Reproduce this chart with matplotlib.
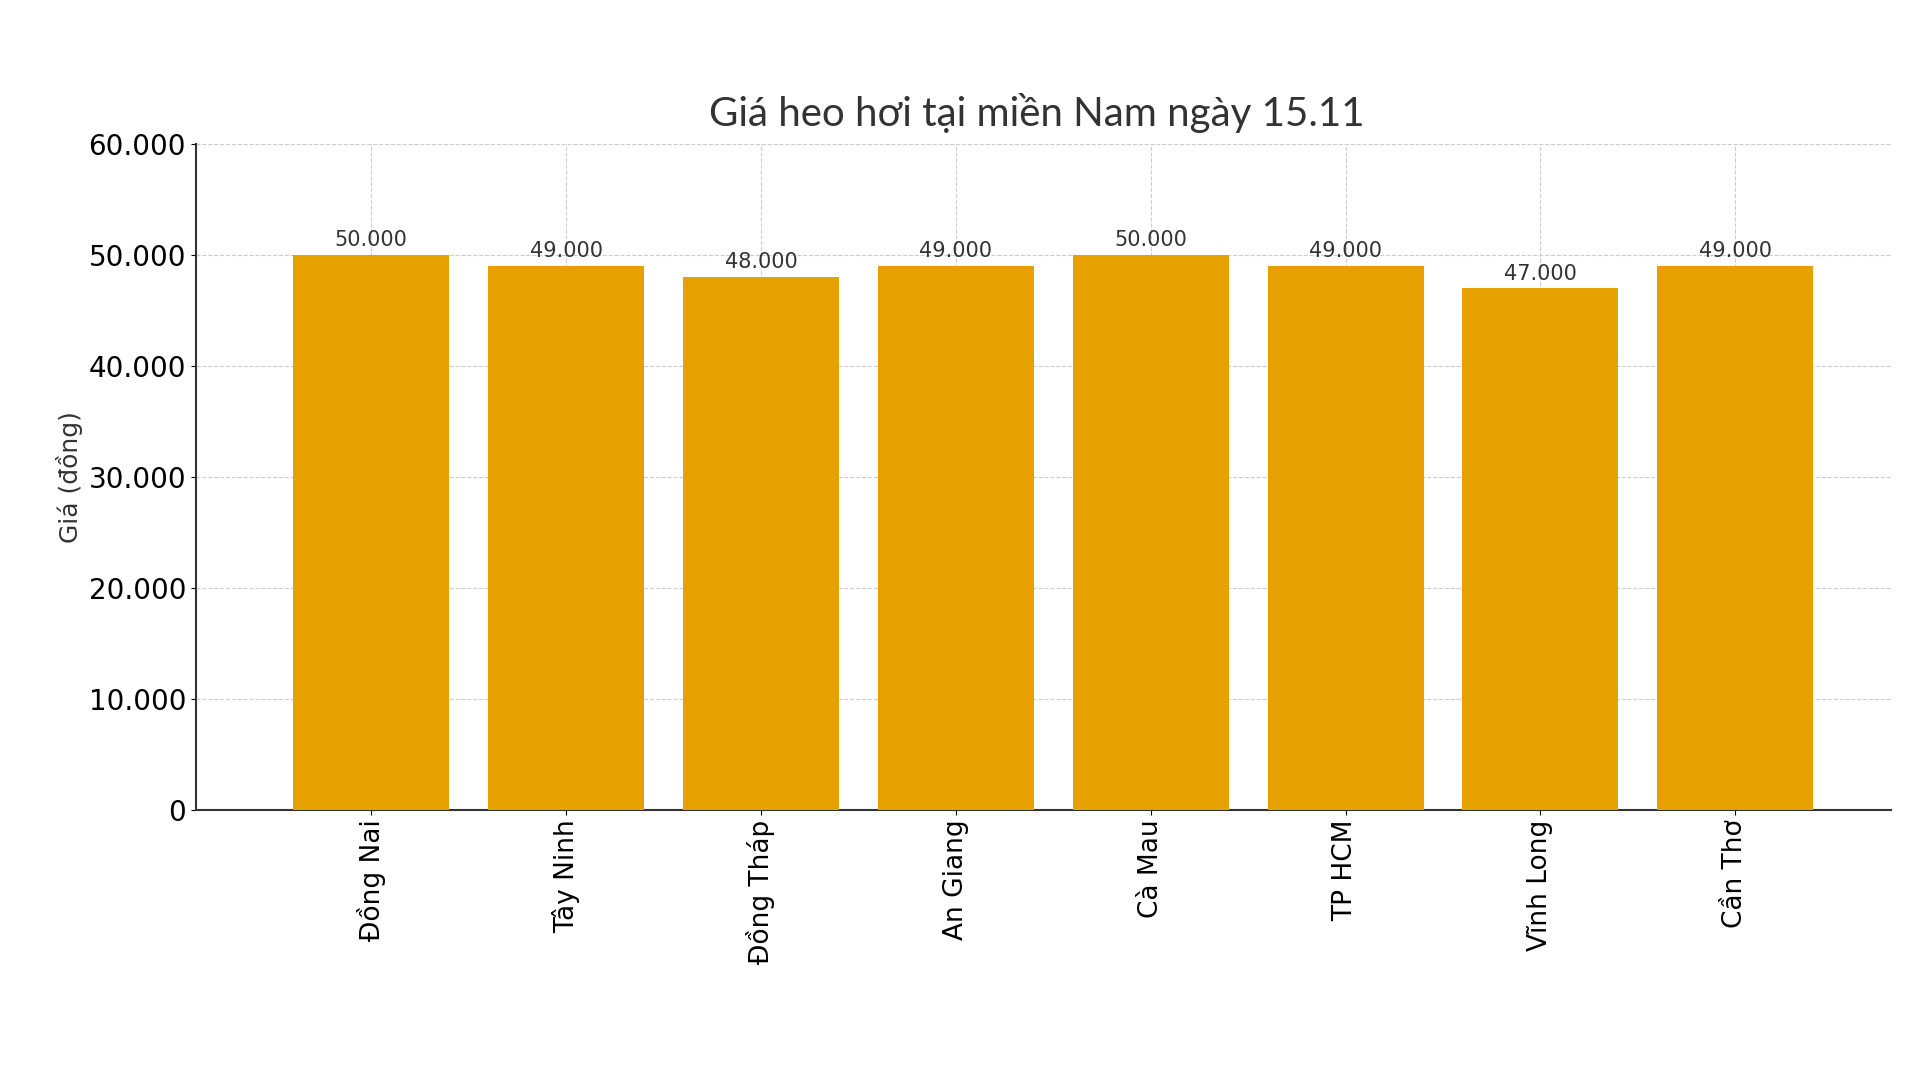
import matplotlib.pyplot as plt
from matplotlib.ticker import FuncFormatter

provinces = ['Đồng Nai', 'Tây Ninh', 'Đồng Tháp', 'An Giang', 'Cà Mau', 'TP HCM', 'Vĩnh Long', 'Cần Thơ']
prices = [50000, 49000, 48000, 49000, 50000, 49000, 47000, 49000]

def dot_fmt(v, pos=None):
    return f"{int(v):,}".replace(',', '.')

fig = plt.figure(figsize=(19.2, 10.8), dpi=100)
ax = fig.add_axes([0.102, 0.25, 0.883, 0.617])

bars = ax.bar(provinces, prices, color='#E6A100', width=0.8, zorder=3)
for b, v in zip(bars, prices):
    ax.text(b.get_x() + b.get_width() / 2, v + 400, dot_fmt(v),
            ha='center', va='bottom', fontsize=15, color='#333333')

ax.set_ylim(0, 60000)
ax.set_xlim(-0.9, 7.8)
ax.yaxis.set_major_formatter(FuncFormatter(dot_fmt))
ax.grid(True, linestyle='--', color='#cccccc', linewidth=0.8, zorder=0)
ax.tick_params(axis='y', labelsize=20)
ax.tick_params(axis='x', labelsize=19, rotation=90)
for s in ['top', 'right']:
    ax.spines[s].set_visible(False)
for s in ['left', 'bottom']:
    ax.spines[s].set_color('#333333')
    ax.spines[s].set_linewidth(1.5)

ax.set_ylabel('Giá (đồng)', fontsize=18, color='#333333')
fig.text(0.54, 0.895, 'Giá heo hơi tại miền Nam ngày 15.11', ha='center', va='center',
         fontsize=29, color='#333333', family=['Lato', 'DejaVu Sans'])

fig.savefig('out.png')
